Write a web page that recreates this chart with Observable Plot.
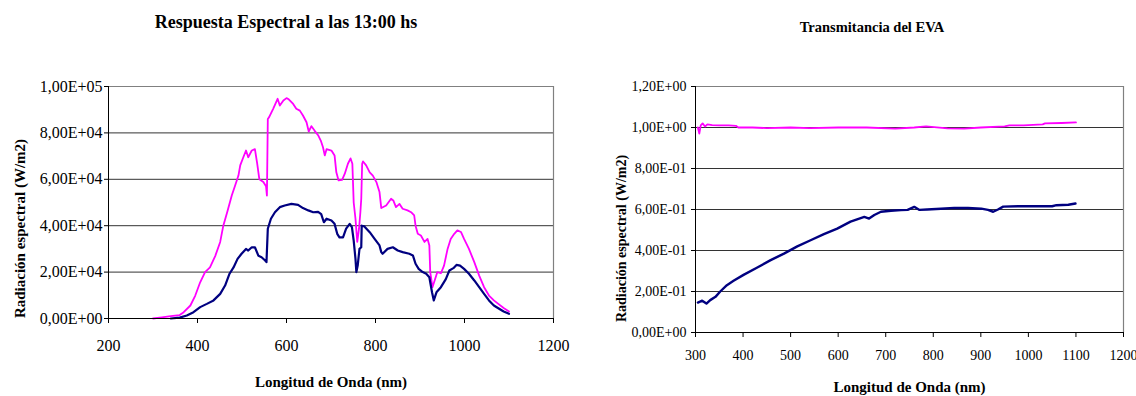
<!DOCTYPE html>
<html>
<head>
<meta charset="utf-8">
<script src="https://cdn.jsdelivr.net/npm/d3@7"></script>
<script src="https://cdn.jsdelivr.net/npm/@observablehq/plot@0.6"></script>
<style>
  html, body { margin: 0; padding: 0; background: #fff; }
  #wrap { position: relative; width: 1136px; height: 396px; font-family: "Liberation Serif", "Times New Roman", serif; }
  #wrap svg, #wrap svg text { font-family: "Liberation Serif", "Times New Roman", serif !important; }
  .title { position: absolute; font-weight: bold; white-space: nowrap; transform: translateX(-50%); color: #000; }
  .chart { position: absolute; top: 40px; }
</style>
</head>
<body>
<div id="wrap">
  <div class="title" id="t1" style="left:286px; top:11px; font-size:18px; line-height:22px;"></div>
  <div class="title" id="t2" style="left:872px; top:18px; font-size:14.5px; line-height:18px;"></div>
  <div class="chart" id="c1" style="left:0px;"></div>
  <div class="chart" id="c2" style="left:570px;"></div>
</div>
<script>
// ---------- Texts ----------
const leftTitle = "Respuesta Espectral a las 13:00 hs";
const rightTitle = "Transmitancia del EVA";
const xTitle = "Longitud de Onda (nm)";
const yTitle = "Radiación espectral (W/m2)";

// ---------- Left chart: spectral response (W/m2) ----------
const leftXTicks = [200, 400, 600, 800, 1000, 1200];
const leftYTicks = [0, 20000, 40000, 60000, 80000, 100000];
const leftYLabels = ["0,00E+00", "2,00E+04", "4,00E+04", "6,00E+04", "8,00E+04", "1,00E+05"];

const magentaWl = [300, 320, 340, 360, 369, 384, 395, 406, 417, 428, 440, 451, 458, 467, 477, 484, 492, 496, 503, 509, 514, 522, 529, 534, 539, 548, 554, 556, 558, 561, 570, 580, 585, 593, 600, 605, 615, 622, 630, 637, 645, 650, 656, 663, 671, 677, 682, 686, 690, 701, 708, 712, 717, 725, 731, 738, 744, 748, 751, 755, 759, 763, 766, 768, 770, 772, 779, 787, 794, 802, 809, 813, 824, 835, 840, 846, 854, 861, 872, 880, 887, 890, 895, 902, 910, 917, 921, 923, 928, 934, 939, 947, 954, 962, 969, 977, 984, 992, 999, 1010, 1022, 1033, 1044, 1055, 1066, 1076, 1088, 1100];
const magentaVal = [0, 500, 1000, 1500, 2700, 5600, 9900, 15600, 20000, 22000, 27000, 33000, 40000, 46000, 53000, 57000, 61600, 66000, 69500, 72400, 69500, 72400, 73000, 67000, 60000, 58800, 57000, 53000, 86000, 86800, 90400, 94700, 91800, 94000, 95000, 94500, 92500, 90400, 89600, 87500, 84600, 80600, 82900, 81000, 79000, 76700, 73800, 70300, 73000, 72400, 70300, 63000, 59500, 59800, 62400, 66700, 69000, 66700, 50000, 43000, 33000, 38700, 45800, 51600, 66700, 67700, 66000, 63000, 61600, 58800, 54500, 47600, 48700, 51600, 50900, 48000, 49400, 47300, 46600, 45800, 44400, 40000, 36500, 35800, 33000, 34300, 31500, 20000, 13500, 17000, 20000, 19500, 22800, 30000, 34300, 36500, 38000, 37300, 34300, 30000, 24300, 18500, 13500, 9900, 7800, 6300, 4500, 3000];

const navyWl = [340, 360, 376, 391, 406, 421, 436, 451, 462, 472, 481, 490, 499, 509, 514, 522, 529, 537, 544, 552, 555, 558, 565, 574, 585, 596, 611, 626, 637, 649, 660, 671, 678, 684, 690, 701, 708, 714, 719, 727, 734, 742, 747, 751, 755, 757, 760, 764, 768, 769, 775, 787, 798, 809, 813, 816, 827, 839, 850, 861, 876, 884, 890, 897, 906, 914, 921, 927, 931, 937, 947, 958, 966, 975, 982, 990, 999, 1010, 1022, 1033, 1044, 1055, 1066, 1076, 1088, 1100];
const navyVal = [0, 400, 1300, 2700, 4900, 6300, 7800, 10600, 14200, 19300, 22000, 25700, 27900, 30000, 29300, 30700, 30700, 27000, 26400, 25000, 24300, 38700, 43000, 45800, 48000, 48700, 49400, 49000, 47600, 46600, 45800, 46000, 45000, 41500, 43000, 42200, 40800, 36500, 35000, 35000, 38700, 40800, 39400, 33600, 25700, 20000, 22800, 30000, 30700, 40000, 39700, 37200, 34300, 31500, 28600, 27900, 30000, 30700, 29300, 28600, 27900, 27200, 23600, 21400, 20000, 19300, 17800, 11300, 7800, 11300, 13500, 17000, 20700, 21700, 23100, 22800, 21400, 19300, 16400, 13500, 10600, 7800, 5600, 4400, 3000, 2000];

// ---------- Right chart: EVA transmittance ----------
const rightXTicks = [300, 400, 500, 600, 700, 800, 900, 1000, 1100, 1200];
const rightYTicks = [0, 0.2, 0.4, 0.6, 0.8, 1.0, 1.2];
const rightYLabels = ["0,00E+00", "2,00E-01", "4,00E-01", "6,00E-01", "8,00E-01", "1,00E+00", "1,20E+00"];

const transMagWl = [305, 308, 311, 315, 320, 325, 335, 350, 370, 385, 390, 420, 450, 500, 540, 600, 660, 720, 760, 785, 830, 865, 900, 950, 960, 990, 1000, 1030, 1035, 1070, 1100];
const transMagVal = [1.0, 0.97, 1.01, 1.02, 1.005, 1.015, 1.012, 1.01, 1.01, 1.008, 1.0, 1.0, 0.997, 1.0, 0.997, 1.0, 1.0, 0.995, 1.0, 1.005, 0.996, 0.995, 1.0, 1.005, 1.01, 1.01, 1.012, 1.015, 1.02, 1.022, 1.025];

const transNavyWl = [305, 314, 323, 331, 342, 352, 366, 380, 401, 430, 458, 486, 514, 542, 570, 598, 626, 655, 665, 676, 690, 711, 732, 746, 760, 771, 787, 816, 844, 873, 901, 915, 926, 936, 947, 978, 1013, 1050, 1059, 1084, 1099];
const transNavyVal = [0.146, 0.155, 0.141, 0.158, 0.174, 0.2, 0.231, 0.252, 0.281, 0.317, 0.353, 0.385, 0.42, 0.45, 0.48, 0.507, 0.541, 0.564, 0.556, 0.573, 0.589, 0.594, 0.597, 0.598, 0.613, 0.598, 0.6, 0.604, 0.608, 0.607, 0.604, 0.598, 0.589, 0.6, 0.614, 0.616, 0.616, 0.616, 0.621, 0.623, 0.629];

const MAGENTA = "#ff00ff";
const NAVY = "#000080";
const SERIF = "'Liberation Serif', 'Times New Roman', serif";
const zip = (xs, ys) => xs.map((x, i) => ({x, y: ys[i]}));

document.getElementById("t1").textContent = leftTitle;
document.getElementById("t2").textContent = rightTitle;

function chart({width, height, margins, xDomain, yDomain, xTicks, yTicks, yLabels, series, fontSize, yTitleDx, yTitleDy, xTitleDy, xTickPad, yTickPad, titleSize}) {
  const [mt, mr, mb, ml] = margins;
  return Plot.plot({
    width, height,
    marginTop: mt, marginRight: mr, marginBottom: mb, marginLeft: ml,
    style: {fontFamily: SERIF, fontSize: fontSize + "px", color: "#000", background: "#fff", overflow: "visible"},
    x: {domain: xDomain},
    y: {domain: yDomain},
    marks: [
      Plot.ruleY(yTicks.slice(1, -1), {stroke: "#333", strokeWidth: 1}),
      Plot.ruleY([yDomain[1]], {stroke: "#808080", strokeWidth: 1.2}),
      Plot.ruleX([xDomain[1]], {stroke: "#808080", strokeWidth: 1.2}),
      ...series.map(s => Plot.line(s.data, {x: "x", y: "y", stroke: s.color, strokeWidth: s.w, strokeLinejoin: "round"})),
      Plot.ruleX([xDomain[0]], {stroke: "#000", strokeWidth: 1}),
      Plot.ruleY([yDomain[0]], {stroke: "#000", strokeWidth: 1}),
      Plot.axisY({ticks: yTicks, tickFormat: (d, i) => yLabels[i], tickSize: 4, tickPadding: yTickPad, label: null, stroke: "#000", fontFamily: SERIF}),
      Plot.axisX({ticks: xTicks, tickFormat: d => String(d), tickSize: 5, tickPadding: xTickPad, label: null, stroke: "#000", fontFamily: SERIF}),
      Plot.text([yTitle], {text: d => d, frameAnchor: "left", textAnchor: "middle", lineAnchor: "middle", rotate: -90, dx: yTitleDx, dy: yTitleDy, fontWeight: "bold", fontSize: titleSize[0], fontFamily: SERIF}),
      Plot.text([xTitle], {text: d => d, frameAnchor: "bottom", textAnchor: "middle", lineAnchor: "middle", dy: xTitleDy, fontWeight: "bold", fontSize: titleSize[1], fontFamily: SERIF})
    ]
  });
}

document.getElementById("c1").append(chart({
  width: 570, height: 356, margins: [46, 17, 78, 108],
  xDomain: [200, 1200], yDomain: [0, 100000],
  xTicks: leftXTicks, yTicks: leftYTicks, yLabels: leftYLabels,
  series: [
    {data: zip(magentaWl, magentaVal), color: MAGENTA, w: 1.8},
    {data: zip(navyWl, navyVal), color: NAVY, w: 2.2}
  ],
  fontSize: 16, yTitleDx: -88, yTitleDy: 26, xTitleDy: 64, xTickPad: 16, yTickPad: 2, titleSize: [15, 15]
}));

document.getElementById("c2").append(chart({
  width: 566, height: 356, margins: [46, 13, 64, 125],
  xDomain: [300, 1200], yDomain: [0, 1.2],
  xTicks: rightXTicks, yTicks: rightYTicks, yLabels: rightYLabels,
  series: [
    {data: zip(transMagWl, transMagVal), color: MAGENTA, w: 1.8},
    {data: zip(transNavyWl, transNavyVal), color: NAVY, w: 2.4}
  ],
  fontSize: 14, yTitleDx: -74, yTitleDy: 29, xTitleDy: 55, xTickPad: 13, yTickPad: 5, titleSize: [14, 15]
}));
</script>
</body>
</html>
